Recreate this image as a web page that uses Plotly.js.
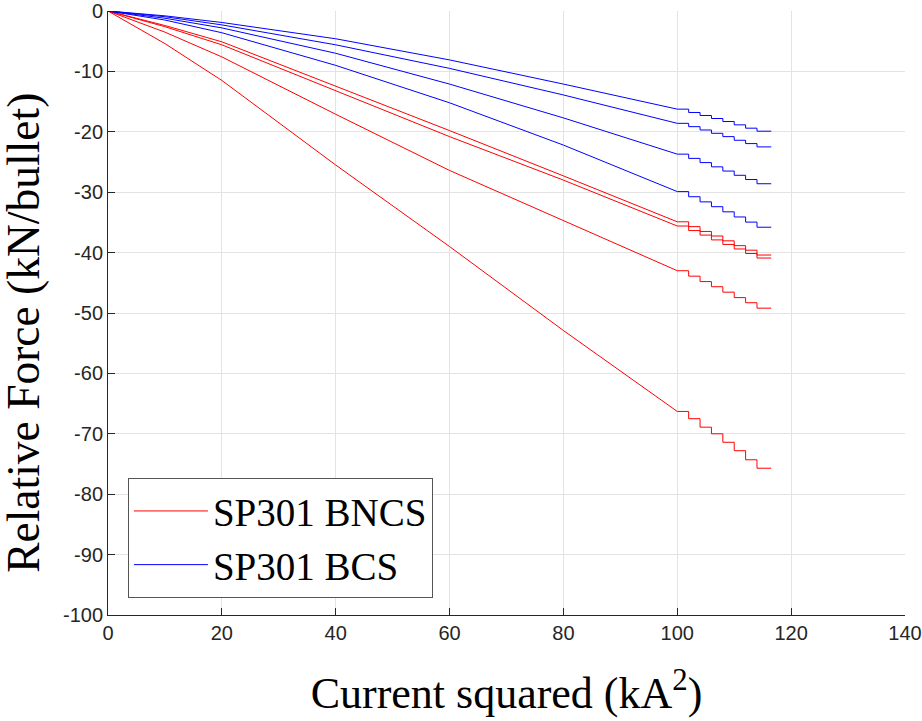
<!DOCTYPE html>
<html>
<head>
<meta charset="utf-8">
<script src="https://cdn.plot.ly/plotly-3.0.1.min.js"></script>
<style>html,body{margin:0;padding:0;background:#fff;}#chart{width:922px;height:721px;}</style>
</head>
<body>
<div id="chart"></div>
<script>
// Smooth part (current squared, kA^2)
const xSmooth = [0, 10, 20, 40, 60, 80, 100];
// SP301 BNCS (red) curves, values at xSmooth
const bncsA = [0, -2.4, -5.1, -12.4, -19.8, -27.3, -34.9];
const bncsB = [0, -2.6, -5.6, -13.2, -20.8, -28.0, -35.6];
const bncsC = [0, -3.5, -7.6, -17.1, -26.4, -34.7, -43.0];
const bncsD = [0, -5.4, -11.5, -25.5, -39.0, -52.9, -66.3];
// SP301 BCS (blue) curves, values at xSmooth
const bcsA = [0, -0.8, -1.9, -4.6, -8.1, -12.1, -16.25];
const bcsB = [0, -0.95, -2.3, -5.6, -9.5, -13.9, -18.6];
const bcsC = [0, -1.2, -2.8, -7.0, -12.1, -17.7, -23.7];
const bcsD = [0, -1.5, -3.6, -9.0, -15.2, -22.2, -29.9];

// Staircase part: step edges and the level held on each step
const xStep = [100, 102, 104, 106, 108, 110, 112, 114, 116.5];
const bncsAStep = [-34.9, -35.7, -36.5, -37.25, -38.05, -38.85, -39.6, -40.4];
const bncsBStep = [-35.6, -36.35, -37.1, -37.9, -38.65, -39.4, -40.15, -40.9];
const bncsCStep = [-43.0, -43.9, -44.8, -45.65, -46.55, -47.45, -48.3, -49.2];
const bncsDStep = [-66.3, -67.5, -68.9, -70.0, -71.4, -72.8, -74.3, -75.7];
const bcsAStep = [-16.25, -16.8, -17.3, -17.8, -18.3, -18.85, -19.4, -19.9];
const bcsBStep = [-18.6, -19.15, -19.7, -20.25, -20.8, -21.4, -21.95, -22.5];
const bcsCStep = [-23.7, -24.4, -25.1, -25.8, -26.5, -27.2, -27.9, -28.6];
const bcsDStep = [-29.9, -30.75, -31.6, -32.4, -33.25, -34.1, -34.95, -35.8];

const xTicks = [0, 20, 40, 60, 80, 100, 120, 140];
const yTicks = [0, -10, -20, -30, -40, -50, -60, -70, -80, -90, -100];

function buildSeries(smooth, steps) {
  const xs = xSmooth.slice(0, -1);
  const ys = smooth.slice(0, -1);
  for (let i = 0; i < steps.length; i++) {
    xs.push(xStep[i]); ys.push(steps[i]);
    xs.push(xStep[i + 1]); ys.push(steps[i]);
  }
  return {xs, ys};
}

const red = '#ff0000', blue = '#0000ff';
const series = [
  {s: bncsA, st: bncsAStep, c: red, name: 'SP301 BNCS', leg: true},
  {s: bncsB, st: bncsBStep, c: red},
  {s: bncsC, st: bncsCStep, c: red},
  {s: bncsD, st: bncsDStep, c: red},
  {s: bcsA, st: bcsAStep, c: blue, name: 'SP301 BCS', leg: true},
  {s: bcsB, st: bcsBStep, c: blue},
  {s: bcsC, st: bcsCStep, c: blue},
  {s: bcsD, st: bcsDStep, c: blue}
];

const traces = series.map(d => {
  const p = buildSeries(d.s, d.st);
  return {
    x: p.xs, y: p.ys, type: 'scatter', mode: 'lines',
    line: {color: d.c, width: 1, shape: 'linear'},
    name: d.name || '', showlegend: !!d.leg, hoverinfo: 'skip'
  };
});

const serif = 'Liberation Serif, Times New Roman, serif';
const sans = 'Liberation Sans, Arial, sans-serif';

const layout = {
  width: 922, height: 721,
  margin: {l: 108, r: 17, t: 11, b: 106},
  paper_bgcolor: '#fff', plot_bgcolor: '#fff',
  showlegend: true,
  xaxis: {
    range: [0, 140], tickvals: xTicks, ticktext: xTicks.map(String),
    showgrid: true, gridcolor: '#e3e3e3', gridwidth: 1,
    zeroline: false, showline: true, linecolor: '#262626', linewidth: 1,
    ticks: 'inside', ticklen: 7, tickcolor: '#262626',
    tickfont: {family: sans, size: 20, color: '#262626'},
    title: {text: 'Current squared (kA<sup>2</sup>)', standoff: 34,
      font: {family: serif, size: 44, color: '#000'}},
    automargin: false
  },
  yaxis: {
    range: [-100, 0], tickvals: yTicks, ticktext: yTicks.map(String),
    showgrid: true, gridcolor: '#e3e3e3', gridwidth: 1,
    zeroline: false, showline: true, linecolor: '#262626', linewidth: 1,
    ticks: 'inside', ticklen: 7, tickcolor: '#262626',
    tickfont: {family: sans, size: 20, color: '#262626'},
    automargin: false
  },
  annotations: [{
    text: 'Relative Force (kN/bullet)', textangle: -90,
    xref: 'paper', yref: 'paper', x: -0.071, y: 0.467,
    xanchor: 'right', yanchor: 'middle', showarrow: false,
    font: {family: serif, size: 45.5, color: '#000'}
  }],
  legend: {
    x: 0.025, y: 0.028, xanchor: 'left', yanchor: 'bottom',
    bgcolor: '#fff', bordercolor: '#555', borderwidth: 1,
    font: {family: serif, size: 39, color: '#000'},
    itemwidth: 74, tracegroupgap: 0
  }
};

Plotly.newPlot('chart', traces, layout, {displayModeBar: false, staticPlot: true});
</script>
</body>
</html>
